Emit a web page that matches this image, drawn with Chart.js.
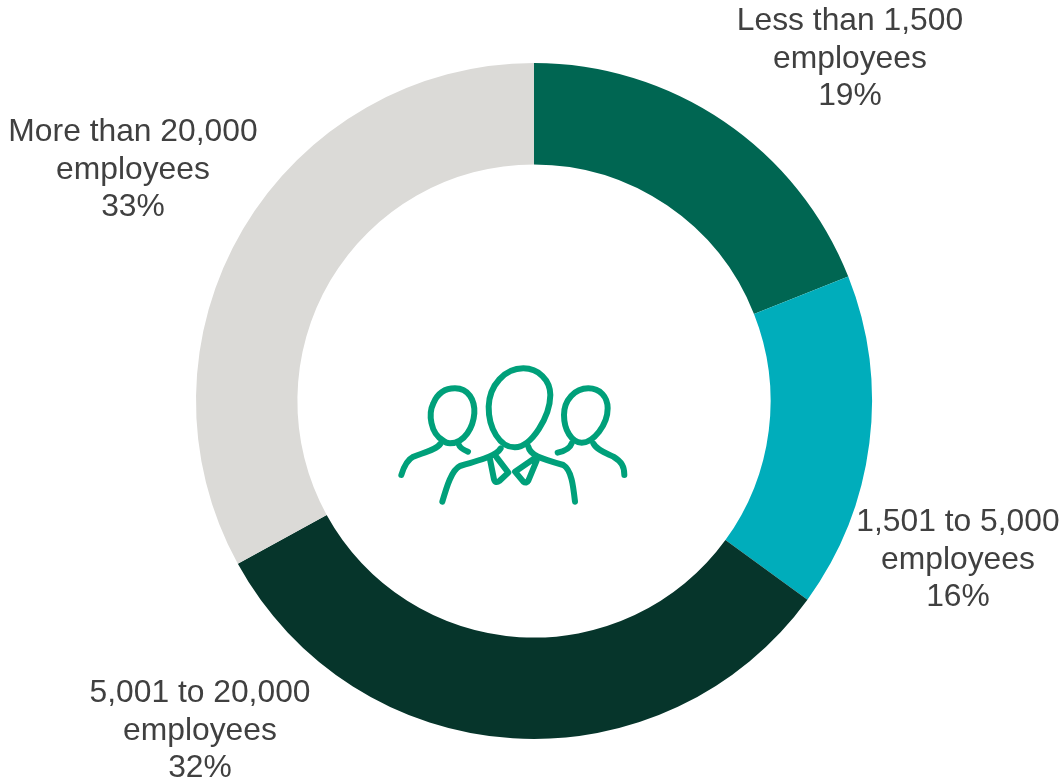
<!DOCTYPE html>
<html>
<head>
<meta charset="utf-8">
<script src="https://cdn.jsdelivr.net/npm/chart.js@4"></script>
<style>
html, body { margin: 0; padding: 0; background: #fff; }
#wrap { position: relative; width: 1061px; height: 779px; }
</style>
</head>
<body>
<div id="wrap"><canvas id="sizeChart"></canvas></div>
<script>
var categories = ['Less than 1,500 employees', '1,501 to 5,000 employees', '5,001 to 20,000 employees', 'More than 20,000 employees'];
var labelLines = [['Less than 1,500', 'employees'], ['1,501 to 5,000', 'employees'], ['5,001 to 20,000', 'employees'], ['More than 20,000', 'employees']];
var shares = [19, 16, 32, 33];
var colors = ['#006652', '#00ADBB', '#06352B', '#DBDAD7'];

// label block centres, relative to the doughnut centre
var labelOffsets = [[316, -342], [424, 159], [-334, 330], [-401, -231]];

// people icon, traced at 3x and scaled down when drawn
var iconPaths = [
    'M190 272C150 250 145 190 160 160C175 125 200 115 225 115C265 115 285 150 283 190C280 230 255 280 210 280C200 280 195 277 190 272',
    'M182 280C170 300 130 308 100 320C80 330 70 355 64 375',
    'M237 285C240 295 252 300 264 305',
    'M430 55C375 55 328 105 326 170C325 235 360 293 405 292C455 290 510 200 511 135C511 90 475 55 430 55Z',
    'M362 295C350 315 320 325 240 348C215 360 200 410 187 455',
    'M445 290C450 315 480 325 550 345C575 360 580 410 585 455',
    'M330 328L342 388C345 398 352 398 358 393L385 368L350 322',
    'M468 322L405 365L430 395C436 400 442 398 445 392L470 332',
    'M625 115C585 115 552 150 552 195C552 240 575 278 605 278C640 278 683 225 683 175C683 140 660 115 625 115Z',
    'M640 280C650 300 680 310 700 320C725 335 733 350 733 375',
    'M575 280C570 295 555 303 533 308'
];

var labelPlugin = {
    id: 'ringLabels',
    afterDraw: function (chart) {
        var ctx = chart.ctx;
        var arc = chart.getDatasetMeta(0).data[0];

        ctx.save();
        ctx.font = '31.8px "Liberation Sans"';
        ctx.fillStyle = '#404040';
        ctx.textAlign = 'center';
        ctx.textBaseline = 'middle';
        labelLines.forEach(function (lines, i) {
            var rows = lines.concat(shares[i] + '%');
            rows.forEach(function (row, r) {
                ctx.fillText(row, arc.x + labelOffsets[i][0], arc.y + labelOffsets[i][1] + (r - 1) * 37.5);
            });
        });
        ctx.restore();

        ctx.save();
        ctx.translate(arc.x - 154, arc.y - 51);
        ctx.scale(1 / 3, 1 / 3);
        ctx.strokeStyle = '#00A07A';
        ctx.lineWidth = 18;
        ctx.lineCap = 'round';
        ctx.lineJoin = 'round';
        iconPaths.forEach(function (d) {
            ctx.stroke(new Path2D(d));
        });
        ctx.restore();
    }
};

var sizeChart = new Chart(document.getElementById('sizeChart'), {
    type: 'doughnut',
    data: {
        labels: categories,
        datasets: [{
            data: shares,
            backgroundColor: colors,
            borderWidth: 0
        }]
    },
    options: {
        responsive: true,
        maintainAspectRatio: false,
        animation: false,
        cutout: '70%',
        layout: { padding: { left: 196, right: 189, top: 63, bottom: 40 } },
        plugins: {
            legend: { display: false },
            tooltip: { enabled: false }
        }
    },
    plugins: [labelPlugin]
});
</script>
</body>
</html>
